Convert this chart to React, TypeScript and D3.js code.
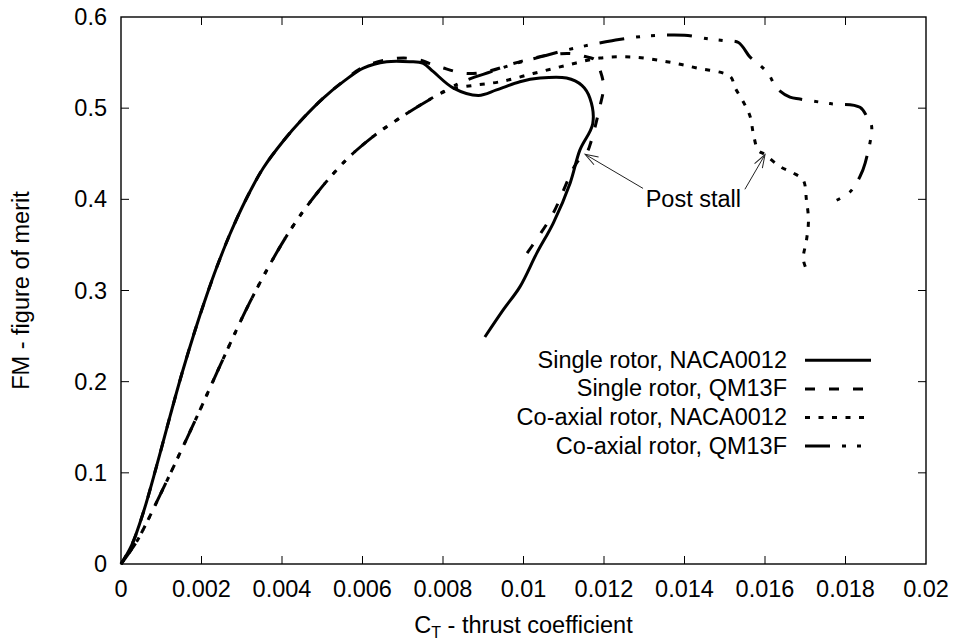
import React from "react";
import * as d3 from "d3";

const xTicks = [0, 0.002, 0.004, 0.006, 0.008, 0.01, 0.012, 0.014, 0.016, 0.018, 0.02];
const xTickLabels = ["0", "0.002", "0.004", "0.006", "0.008", "0.01", "0.012", "0.014", "0.016", "0.018", "0.02"];
const yTicks = [0, 0.1, 0.2, 0.3, 0.4, 0.5, 0.6];
const yTickLabels = ["0", "0.1", "0.2", "0.3", "0.4", "0.5", "0.6"];

const seriesNames = [
  "Single rotor, NACA0012",
  "Single rotor, QM13F",
  "Co-axial rotor, NACA0012",
  "Co-axial rotor, QM13F",
];

const singleNaca: [number, number][] = [
  [0, 0], [0.000266, 0.0208], [0.000554, 0.0565], [0.000887, 0.1079], [0.001217, 0.1619], [0.001508, 0.2081],
  [0.001839, 0.2562], [0.002129, 0.2947], [0.002378, 0.3254], [0.002708, 0.362], [0.003123, 0.4015],
  [0.003535, 0.4344], [0.004032, 0.464], [0.004529, 0.4892], [0.005026, 0.5111], [0.005523, 0.5291],
  [0.00602, 0.544], [0.0066, 0.551], [0.00718, 0.551], [0.00751, 0.549], [0.00776, 0.54], [0.00826, 0.522],
  [0.00888, 0.514], [0.00933, 0.52], [0.00991, 0.529], [0.01041, 0.533], [0.01107, 0.533], [0.01145, 0.525],
  [0.01165, 0.511], [0.01172, 0.483], [0.0114, 0.454], [0.01116, 0.418], [0.01074, 0.374], [0.01033, 0.341],
  [0.00991, 0.304], [0.0095, 0.279], [0.00904, 0.249],
];

const singleQm: [number, number][] = [
  [0, 0], [0.000266, 0.0208], [0.000554, 0.0565], [0.000887, 0.1079], [0.001217, 0.1619], [0.001508, 0.2081],
  [0.001839, 0.2562], [0.002129, 0.2947], [0.002378, 0.3254], [0.002708, 0.362], [0.003123, 0.4015],
  [0.003535, 0.4344], [0.004032, 0.464], [0.004529, 0.4892], [0.005026, 0.5111], [0.005523, 0.5295],
  [0.00602, 0.545], [0.00673, 0.554], [0.0073, 0.554], [0.00793, 0.545], [0.00859, 0.538], [0.00917, 0.541],
  [0.00975, 0.549], [0.01008, 0.553], [0.01058, 0.558], [0.01116, 0.56], [0.0115, 0.557], [0.01178, 0.553],
  [0.0119, 0.542], [0.01199, 0.524], [0.0119, 0.502], [0.01182, 0.487], [0.01169, 0.465], [0.01157, 0.451],
  [0.01132, 0.44], [0.01074, 0.385], [0.01037, 0.359], [0.00996, 0.333],
];

const coaxNaca: [number, number][] = [
  [0, 0], [0.00039, 0.0247], [0.000639, 0.0455], [0.000969, 0.0755], [0.001384, 0.114], [0.001881, 0.1611],
  [0.002293, 0.2012], [0.002708, 0.2414], [0.003205, 0.2875], [0.003868, 0.3417], [0.004365, 0.3768],
  [0.004862, 0.4064], [0.005275, 0.4282], [0.005689, 0.4474], [0.006268, 0.4691], [0.006765, 0.4845],
  [0.00718, 0.4964], [0.007759, 0.5118], [0.008174, 0.5205], [0.00875, 0.525], [0.00942, 0.529],
  [0.01024, 0.538], [0.01107, 0.547], [0.0119, 0.555], [0.01273, 0.556], [0.01356, 0.551], [0.01431, 0.544],
  [0.01513, 0.535], [0.01526, 0.522], [0.01546, 0.507], [0.01563, 0.491], [0.01571, 0.472], [0.01583, 0.454],
  [0.016, 0.449], [0.01637, 0.436], [0.0167, 0.429], [0.01695, 0.421], [0.01703, 0.399], [0.01708, 0.377],
  [0.01703, 0.355], [0.01695, 0.335], [0.01702, 0.324],
];

const coaxQm: [number, number][] = [
  [0, 0], [0.00039, 0.0247], [0.000639, 0.0455], [0.000969, 0.0755], [0.001384, 0.114], [0.001881, 0.1611],
  [0.002293, 0.2012], [0.002708, 0.2414], [0.003205, 0.2875], [0.003868, 0.3417], [0.004365, 0.3768],
  [0.004862, 0.4064], [0.005275, 0.4282], [0.005689, 0.4474], [0.006268, 0.4691], [0.006765, 0.4845],
  [0.00718, 0.4964], [0.007759, 0.5118], [0.008174, 0.5222], [0.0086, 0.531], [0.0092, 0.54], [0.0098, 0.549],
  [0.0104, 0.556], [0.011, 0.563], [0.0116, 0.569], [0.0122, 0.574], [0.0128, 0.578], [0.0134, 0.58],
  [0.014, 0.58], [0.0146, 0.576], [0.015, 0.574], [0.01534, 0.572], [0.01563, 0.556], [0.01583, 0.549],
  [0.01608, 0.538], [0.01629, 0.522], [0.01662, 0.512], [0.01687, 0.51], [0.01762, 0.505], [0.01836, 0.501],
  [0.01857, 0.487], [0.01865, 0.48], [0.01849, 0.44], [0.01836, 0.425], [0.01811, 0.408], [0.01778, 0.399],
];

const seriesData = [singleNaca, singleQm, coaxNaca, coaxQm];
const dashes = ["none", "10,14", "5,8.5", "25,12,4,11,4,12"];

// annotation: label position and arrow tails/heads (data units)
const annText = "Post stall";
const annLabel: [number, number] = [0.01422, 0.392];
const annArrows: [number, number, number, number][] = [
  [0.01297, 0.412, 0.01153, 0.4494],
  [0.0155, 0.411, 0.016, 0.449],
];

const FONT = "'Liberation Sans', Arial, Helvetica, sans-serif";

export default function App() {
  const W = 959, H = 641;
  const L = 121, R = 926, T = 17, B = 564;
  const x = d3.scaleLinear().domain([0, 0.02]).range([L, R]);
  const y = d3.scaleLinear().domain([0, 0.6]).range([B, T]);
  const line = d3
    .line<[number, number]>()
    .x((d) => x(d[0]))
    .y((d) => y(d[1]))
    .curve(d3.curveCatmullRom.alpha(0.5));
  const fs = 23.5;
  const tickLen = 8;
  const legX1 = 805, legX2 = 871, legTextX = 787;
  const legBase = [367.7, 396.4, 425, 453.5];

  return (
    <svg
      width={W}
      height={H}
      style={{ position: "absolute", left: 0, top: 0, background: "#fff" }}
      fontFamily={FONT}
    >
      <defs>
        <marker id="openArrow" viewBox="-14 -6 16 12" refX={0} refY={0} markerWidth={16} markerHeight={12} markerUnits="userSpaceOnUse" orient="auto">
          <path d="M-13,-4.5 L0,0 L-13,4.5" fill="none" stroke="#222" strokeWidth={1} />
        </marker>
      </defs>
      <rect x={0} y={0} width={W} height={H} fill="#fff" />
      {xTicks.map((t, i) => (
        <g key={"xt" + i}>
          {i > 0 && i < xTicks.length - 1 && (
            <>
              <line x1={x(t)} x2={x(t)} y1={B} y2={B - tickLen} stroke="#000" strokeWidth={1} />
              <line x1={x(t)} x2={x(t)} y1={T} y2={T + tickLen} stroke="#000" strokeWidth={1} />
            </>
          )}
          <text x={x(t)} y={597} textAnchor="middle" fontSize={fs} fill="#000">
            {xTickLabels[i]}
          </text>
        </g>
      ))}
      {yTicks.map((t, i) => (
        <g key={"yt" + i}>
          {i > 0 && i < yTicks.length - 1 && (
            <>
              <line x1={L} x2={L + tickLen} y1={y(t)} y2={y(t)} stroke="#000" strokeWidth={1} />
              <line x1={R} x2={R - tickLen} y1={y(t)} y2={y(t)} stroke="#000" strokeWidth={1} />
            </>
          )}
          <text x={107} y={y(t) + 8} textAnchor="end" fontSize={fs} fill="#000">
            {yTickLabels[i]}
          </text>
        </g>
      ))}
      <text x={(L + R) / 2} y={633} textAnchor="middle" fontSize={fs} fill="#000">
        C
        <tspan fontSize={16} dy={5}>T</tspan>
        <tspan dy={-5}> - thrust coefficient</tspan>
      </text>
      <text
        transform={`translate(29,${(T + B) / 2}) rotate(-90)`}
        textAnchor="middle"
        fontSize={fs}
        fill="#000"
      >
        FM - figure of merit
      </text>
      {seriesData.map((s, i) => (
        <path
          key={"s" + i}
          d={line(s) || ""}
          fill="none"
          stroke="#000"
          strokeWidth={3}
          strokeDasharray={dashes[i]}
          strokeLinejoin="round"
        />
      ))}
      {annArrows.map((a, i) => (
        <line
          key={"a" + i}
          x1={x(a[0])}
          y1={y(a[1])}
          x2={x(a[2])}
          y2={y(a[3])}
          stroke="#222"
          strokeWidth={1}
          markerEnd="url(#openArrow)"
        />
      ))}
      <text x={x(annLabel[0])} y={y(annLabel[1])} textAnchor="middle" fontSize={fs} fill="#000">
        {annText}
      </text>
      {seriesNames.map((n, i) => (
        <g key={"l" + i}>
          <text x={legTextX} y={legBase[i]} textAnchor="end" fontSize={fs} fill="#000">
            {n}
          </text>
          <line
            x1={legX1}
            x2={legX2}
            y1={legBase[i] - 7.5}
            y2={legBase[i] - 7.5}
            stroke="#000"
            strokeWidth={3}
            strokeDasharray={dashes[i]}
          />
        </g>
      ))}
      <rect x={L} y={T} width={R - L} height={B - T} fill="none" stroke="#000" strokeWidth={1.4} />
    </svg>
  );
}
